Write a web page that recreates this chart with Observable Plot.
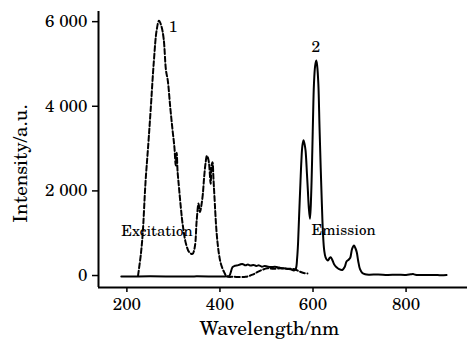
<!DOCTYPE html>
<html>
<head>
<meta charset="utf-8">
<script src="https://cdn.jsdelivr.net/npm/d3@7"></script>
<script src="https://cdn.jsdelivr.net/npm/@observablehq/plot@0.6"></script>
<style>
  html, body { margin: 0; padding: 0; background: #fff; }
  svg text { font-family: "C059", "TeX Gyre Schola", "Century Schoolbook L", "Liberation Serif", serif !important; }
  g[aria-label="ylabel"] text { letter-spacing: 2.3px; }
</style>
</head>
<body>
<div id="chart"></div>
<script>
// Excitation spectrum (dashed), wavelength nm / intensity a.u.
const excitationWl = [224,230,234,240,246,251,258,264,269,274,279,284,288,293,298,302,305,307,309,312,316,320,327,334,341,346,350,354,357,360,363,366,369,372,375,377,380,382,384,386,388,393,398,402,409,415,430,455,470,480,490,502,515,530,545,560,570,580,588];
const excitationI  = [0,500,990,2200,3100,3900,5070,5800,6020,5900,5600,4850,4600,4000,3450,3050,2600,2900,2450,2080,1600,1200,750,550,510,680,1300,1700,1500,1650,1900,2320,2650,2830,2750,2600,2170,2600,2680,2300,1900,990,500,280,80,-20,-30,-30,20,80,130,170,160,170,160,150,100,60,50];

// Emission spectrum (solid)
const emissionWl = [188,250,300,350,400,415,420,427,432,438,443,448,455,460,466,472,478,484,490,496,502,510,518,524,530,537,545,552,559,563,566,568,570,573,575,577,579.5,582,584,587,589,591,593.5,596,598.5,600,602,604.5,607,609,611.5,614,616.5,619,621.5,624,627,632,636,638,641,645,650,656,663,668,672,677,680,684,688,691,694,697,701,706,712,720,740,760,780,800,810,815,820,840,860,875,887];
const emissionI  = [-25,-20,-25,-20,-25,-20,-10,196,230,240,260,275,240,260,236,250,225,240,210,225,212,200,205,196,180,170,157,150,120,160,430,800,1375,2200,2710,3050,3200,3100,2950,2400,2000,1600,1340,1900,2950,3700,4520,4950,5080,4950,4520,3500,2550,1700,980,600,430,354,420,430,380,275,200,150,130,200,330,380,420,630,710,650,550,350,150,60,30,20,25,15,20,15,30,35,20,10,15,5,10];

const xTicks = [200, 400, 600, 800];
const yTicks = [0, 2000, 4000, 6000];
const xDomain = [139, 932];
const yDomain = [-283, 6240];

const annLabels = ["Excitation", "Emission"];
const annX = [264.5, 665.5];
const annY = [1040, 1060];
const peakLabels = ["1", "2"];
const peakX = [299, 606];
const peakY = [5870, 5400];

const xLabel = "Wavelength/nm";
const yLabel = "Intensity/a.u.";

const excitation = excitationWl.map((w, i) => ({w, v: excitationI[i]}));
const emission = emissionWl.map((w, i) => ({w, v: emissionI[i]}));
const ann = annLabels.map((t, i) => ({t, x: annX[i], y: annY[i]}));
const peaks = peakLabels.map((t, i) => ({t, x: peakX[i], y: peakY[i]}));

const fmt = d => d3.format(",")(d).replace(/,/g, " ");

const chart = Plot.plot({
  width: 467,
  height: 340,
  marginLeft: 98,
  marginRight: 0,
  marginTop: 11,
  marginBottom: 53,
  style: {fontSize: "17px", color: "#000", background: "#fff"},
  x: {domain: xDomain},
  y: {domain: yDomain},
  marks: [
    Plot.axisX({ticks: xTicks, tickSize: 5, tickPadding: 5, strokeWidth: 1.5, label: null, fontSize: 17}),
    Plot.axisY({ticks: yTicks, tickSize: 6, tickPadding: 5, strokeWidth: 1.5, label: null, tickFormat: fmt, fontSize: 17}),
    Plot.ruleX([xDomain[0]], {stroke: "#000", strokeWidth: 2}),
    Plot.ruleY([yDomain[0]], {stroke: "#000", strokeWidth: 2}),
    Plot.line(excitation, {x: "w", y: "v", stroke: "#000", strokeWidth: 2, strokeDasharray: "5,2.5", curve: "catmull-rom"}),
    Plot.line(emission, {x: "w", y: "v", stroke: "#000", strokeWidth: 2, curve: "catmull-rom"}),
    Plot.text(ann, {x: "x", y: "y", text: "t", fontSize: 15, fill: "#000"}),
    Plot.text(peaks, {x: "x", y: "y", text: "t", fontSize: 15.5, fill: "#000"}),
    Plot.text([xLabel], {text: d => d, frameAnchor: "bottom", textAnchor: "middle", lineAnchor: "middle", dx: -13.5, dy: 41.5, fontSize: 19.5, fill: "#000"}),
    Plot.text([yLabel], {text: d => d, frameAnchor: "left", textAnchor: "middle", lineAnchor: "middle", rotate: -90, dx: -78, dy: 14, fontSize: 19, fill: "#000", ariaLabel: "ylabel"})
  ]
});
document.getElementById("chart").appendChild(chart);
</script>
</body>
</html>
